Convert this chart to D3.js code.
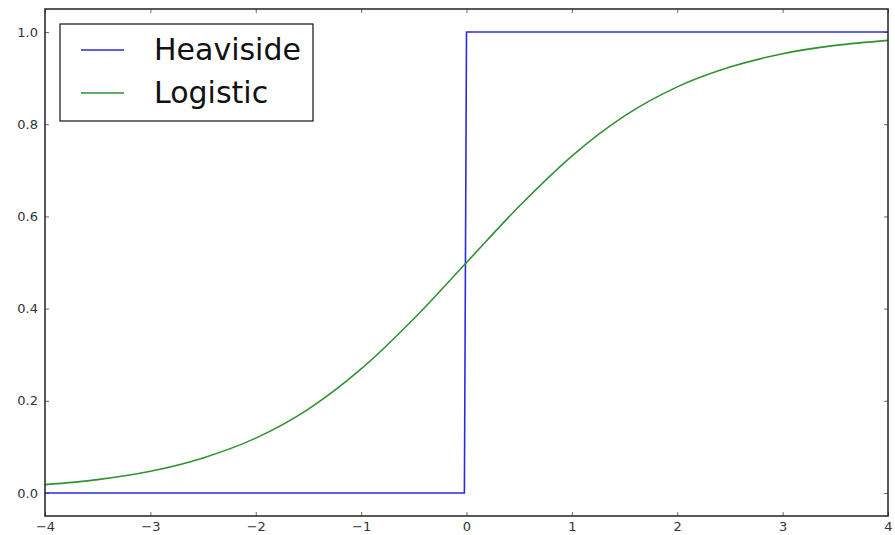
<!DOCTYPE html>
<html>
<head>
<meta charset="utf-8">
<script src="https://cdn.jsdelivr.net/npm/d3@7"></script>
<style>
  body { margin: 0; background: #fff; }
  svg { display: block; }
</style>
</head>
<body>
<div id="wrapper"></div>
<script>
// data
var xValues = [-4, -3.5, -3, -2.5, -2, -1.5, -1, -0.5, 0, 0.5, 1, 1.5, 2, 2.5, 3, 3.5, 4];
var logisticValues = [0.018, 0.029, 0.047, 0.076, 0.119, 0.182, 0.269, 0.378, 0.5,
                      0.622, 0.731, 0.818, 0.881, 0.924, 0.953, 0.971, 0.982];
var heavisideX = [-4, -0.02, 0, 4];
var heavisideY = [0, 0, 1, 1];
var xTicks = [-4, -3, -2, -1, 0, 1, 2, 3, 4];
var yTicks = [0.0, 0.2, 0.4, 0.6, 0.8, 1.0];
var seriesNames = ["Heaviside", "Logistic"];
var seriesColors = ["#2a2ae0", "#2f922f"];

const width = 895;
const height = 535;
let dimensions = {
    width: width,
    height: height,
    margin: { top: 9, right: 7, bottom: 19, left: 45 }
}
dimensions.boundedWidth = dimensions.width - dimensions.margin.left - dimensions.margin.right
dimensions.boundedHeight = dimensions.height - dimensions.margin.top - dimensions.margin.bottom

const wrapper = d3.select("#wrapper")
    .append("svg")
    .attr("width", width)
    .attr("height", height)
    .style("font-family", "DejaVu Sans");

wrapper.append("rect").attr("width", width).attr("height", height).attr("fill", "#fff");

const bounds = wrapper.append("g")
    .attr("transform", `translate(${dimensions.margin.left},${dimensions.margin.top})`);

var xScale = d3.scaleLinear().domain([-4, 4]).range([0, dimensions.boundedWidth]);
var yScale = d3.scaleLinear().domain([-0.05, 1.05]).range([dimensions.boundedHeight, 0]);

var line = d3.line()
    .x(function (d) { return xScale(d[0]); })
    .y(function (d) { return yScale(d[1]); });

var heaviside = heavisideX.map(function (x, i) { return [x, heavisideY[i]]; });
var logistic = xValues.map(function (x, i) { return [x, logisticValues[i]]; });

bounds.append("path")
    .datum(heaviside)
    .attr("d", line)
    .attr("fill", "none")
    .attr("stroke", seriesColors[0])
    .attr("stroke-width", 1.6);

bounds.append("path")
    .datum(logistic)
    .attr("d", line.curve(d3.curveMonotoneX))
    .attr("fill", "none")
    .attr("stroke", seriesColors[1])
    .attr("stroke-width", 1.6);

// axes with inward ticks on all four sides
function styleAxis(g) {
    g.select(".domain").remove();
    g.selectAll(".tick line").attr("stroke", "#444").attr("stroke-width", 0.8);
    g.selectAll(".tick text").attr("fill", "#333").style("font-size", "13px").style("font-family", "DejaVu Sans");
}

bounds.append("g")
    .attr("transform", `translate(0,${dimensions.boundedHeight})`)
    .call(d3.axisBottom(xScale).tickValues(xTicks).tickSize(-4).tickPadding(6))
    .call(styleAxis);

bounds.append("g")
    .call(d3.axisTop(xScale).tickValues(xTicks).tickSize(-4).tickFormat(""))
    .call(styleAxis);

bounds.append("g")
    .call(d3.axisLeft(yScale).tickValues(yTicks).tickSize(-4).tickPadding(7).tickFormat(d3.format(".1f")))
    .call(styleAxis);

bounds.append("g")
    .attr("transform", `translate(${dimensions.boundedWidth},0)`)
    .call(d3.axisRight(yScale).tickValues(yTicks).tickSize(-4).tickFormat(""))
    .call(styleAxis);

bounds.append("rect")
    .attr("width", dimensions.boundedWidth)
    .attr("height", dimensions.boundedHeight)
    .attr("fill", "none")
    .attr("stroke", "#222")
    .attr("stroke-width", 1.5);

// legend
const legend = wrapper.append("g").attr("transform", "translate(60,24)");
legend.append("rect")
    .attr("width", 253)
    .attr("height", 97)
    .attr("fill", "#fff")
    .attr("stroke", "#111")
    .attr("stroke-width", 1.2);

const items = legend.selectAll("g.item")
    .data(seriesNames)
    .enter()
    .append("g")
    .attr("transform", function (d, i) { return `translate(0,${26 + i * 43})`; });

items.append("line")
    .attr("x1", 21).attr("x2", 64)
    .attr("stroke", function (d, i) { return seriesColors[i]; })
    .attr("stroke-width", 1.6);

items.append("text")
    .attr("x", 94)
    .attr("y", 10)
    .style("font-size", "30px")
    .attr("fill", "#111")
    .text(function (d) { return d; });
</script>
</body>
</html>
